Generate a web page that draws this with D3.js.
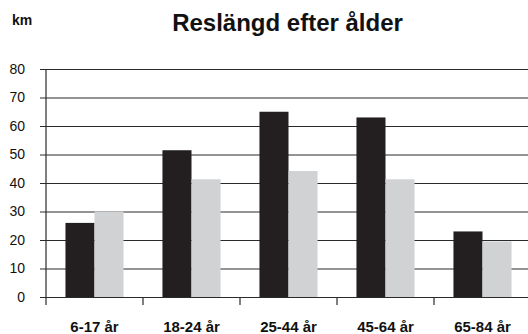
<!DOCTYPE html>
<html>
<head>
<meta charset="utf-8">
<script src="https://cdn.jsdelivr.net/npm/d3@7/dist/d3.min.js"></script>
<style>
  html, body { margin: 0; padding: 0; background: #fff; }
  svg { display: block; font-family: "Liberation Sans", Arial, Helvetica, sans-serif; }
</style>
</head>
<body>
<svg id="chart" width="528" height="334"></svg>
<script>
// Average trip length (km) by age group, two series per group
const categories = ["6-17 år", "18-24 år", "25-44 år", "45-64 år", "65-84 år"];
const seriesA = [26, 51.5, 65, 63, 23];
const seriesB = [30, 41.3, 44.2, 41.3, 19.5];
const yTicks = [0, 10, 20, 30, 40, 50, 60, 70, 80];
const seriesColors = ["#231f20", "#d1d2d4"];

const svg = d3.select("#chart");
const W = 528, H = 334;
const plotLeft = 46, plotRight = 531, plotTop = 69, plotBottom = 297;

const x = d3.scaleBand().domain(categories).range([plotLeft, plotRight]).paddingInner(0).paddingOuter(0);
const inner = d3.scaleBand().domain([0, 1]).range([0, x.bandwidth()]).paddingInner(0).paddingOuter(0.67);
const y = d3.scaleLinear().domain([0, 80]).range([plotBottom, plotTop]);

// Horizontal gridlines with short ticks and labels on the left
const yAxis = d3.axisLeft(y).tickValues(yTicks).tickSize(6).tickPadding(0).tickFormat(d3.format("d"));
const gy = svg.append("g").attr("transform", `translate(${plotLeft},0)`).call(yAxis);
gy.select(".domain").remove();
gy.selectAll(".tick line")
  .attr("x1", -6).attr("x2", W - plotLeft)
  .attr("stroke", "#2a2a2a").attr("stroke-width", 1.2);
gy.selectAll(".tick text")
  .attr("x", -21).attr("dy", "0.3em")
  .attr("fill", "#111").attr("font-size", 14);

// Bars
const groups = svg.append("g").selectAll("g").data(categories).join("g")
  .attr("transform", d => `translate(${x(d)},0)`);
groups.selectAll("rect")
  .data((d, i) => [seriesA[i], seriesB[i]])
  .join("rect")
  .attr("x", (v, j) => inner(j))
  .attr("width", inner.bandwidth())
  .attr("y", v => y(v))
  .attr("height", v => y(0) - y(v))
  .attr("fill", (v, j) => seriesColors[j]);

// Vertical axis line and category separators
svg.append("line").attr("x1", plotLeft).attr("x2", plotLeft).attr("y1", plotTop).attr("y2", plotBottom + 8)
  .attr("stroke", "#2a2a2a").attr("stroke-width", 1.2);
const xAxis = d3.axisBottom(x).tickSize(0).tickPadding(0);
const gx = svg.append("g").attr("transform", `translate(0,${plotBottom})`).call(xAxis);
gx.select(".domain").remove();
gx.selectAll(".tick text")
  .attr("y", 35).attr("dy", 0)
  .attr("fill", "#111").attr("font-size", 15).attr("font-weight", "bold");
svg.append("g").selectAll("line").data(categories.slice(1)).join("line")
  .attr("x1", d => x(d)).attr("x2", d => x(d))
  .attr("y1", plotBottom).attr("y2", plotBottom + 8)
  .attr("stroke", "#2a2a2a").attr("stroke-width", 1.2);

// Unit and title
svg.append("text").attr("x", 12).attr("y", 25)
  .attr("font-size", 14).attr("font-weight", "bold").attr("fill", "#111").text("km");
svg.append("text").attr("x", 287.5).attr("y", 31).attr("text-anchor", "middle")
  .attr("font-size", 24).attr("font-weight", "bold").attr("fill", "#111").text("Reslängd efter ålder");
</script>
</body>
</html>
